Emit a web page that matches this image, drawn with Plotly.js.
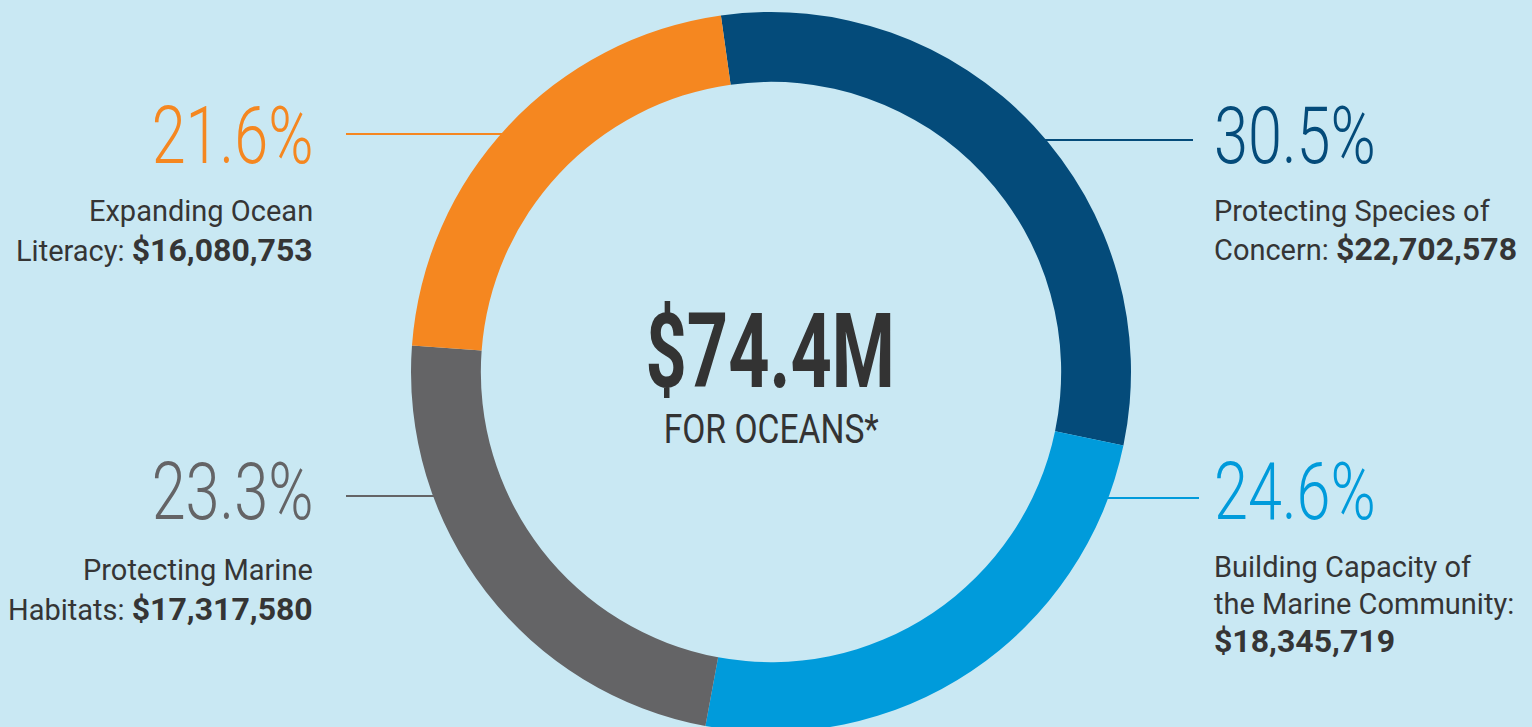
<!DOCTYPE html>
<html>
<head>
<meta charset="utf-8">
<script src="https://cdn.plot.ly/plotly-3.0.1.min.js"></script>
<style>
  html, body { margin: 0; padding: 0; background: #C9E8F3; overflow: hidden; }
  #chart { width: 1532px; height: 744px; }
</style>
</head>
<body>
<div id="chart"></div>
<script>
// ---- data ----
const categories = ["Protecting Species of Concern", "Building Capacity of the Marine Community", "Protecting Marine Habitats", "Expanding Ocean Literacy"];
const labelLines = [
  ["Protecting Species of", "Concern: "],
  ["Building Capacity of", "the Marine Community:", ""],
  ["Protecting Marine", "Habitats: "],
  ["Expanding Ocean", "Literacy: "]
];
const values = [22702578, 18345719, 17317580, 16080753];
const colors = ["#044B7A", "#009BDB", "#646466", "#F58720"];
const centerSub = "FOR OCEANS*";

// ---- derived ----
const total = values.reduce((a, b) => a + b, 0);
const pct = values.map(v => (v / total * 100).toFixed(1) + "%");
const money = v => "$" + v.toLocaleString("en-US");
const totalText = "$" + (total / 1e6).toFixed(1) + "M";

const W = 1532, H = 744;
const px = x => x / W;
const py = y => 1 - y / H;

const trace = {
  type: "pie",
  labels: categories,
  values: values,
  sort: false,
  direction: "clockwise",
  rotation: -8,
  hole: 0.806,
  marker: { colors: colors, line: { width: 0 } },
  textinfo: "none",
  hoverinfo: "skip",
  domain: { x: [411 / W, 1131 / W], y: [0, 1] }
};

const annotations = [];
const scales = [];
function addAnn(text, x, y, xanchor, font, scale, origin) {
  annotations.push({
    text: text, x: px(x), y: py(y), xref: "paper", yref: "paper",
    xanchor: xanchor, yanchor: "middle", showarrow: false, font: font, borderpad: 0
  });
  scales.push({ s: scale, o: origin });
}

const pctFont = c => ({ family: "Roboto", size: 80, color: c, weight: 300 });
const lblFont = { family: "Roboto", size: 29, color: "#353535" };

const place = [
  { side: "right", x: 1213, pctY: 136, ys: [211, 249] },
  { side: "right", x: 1213, pctY: 492, ys: [567, 604, 641] },
  { side: "left", x: 314, pctY: 492, ys: [570, 609] },
  { side: "left", x: 314, pctY: 136, ys: [211, 250] }
];

place.forEach((p, i) => {
  const anchor = p.side === "right" ? "left" : "right";
  const origin = p.side === "right" ? "left center" : "right center";
  addAnn(pct[i], p.x, p.pctY, anchor, pctFont(colors[i]), 0.765, origin);
  const lines = labelLines[i];
  lines.forEach((ln, k) => {
    let t = ln;
    if (k === lines.length - 1) t = ln + '<b><span style="font-size:32px">' + money(values[i]) + "</span></b>";
    addAnn(t, p.x, p.ys[k], anchor, lblFont, 1, origin);
  });
});

addAnn(totalText, 770, 351, "center", { family: "Roboto", size: 103, color: "#333333", weight: 700 }, 0.70, "center");
addAnn(centerSub, 771, 429, "center", { family: "Roboto", size: 41, color: "#333333" }, 0.82, "center");

// leader lines
const leaders = [
  { x0: 1030, x1: 1193, y: 140 },
  { x0: 1090, x1: 1199, y: 498 },
  { x0: 346, x1: 450, y: 496 },
  { x0: 346, x1: 520, y: 134 }
];
const shapes = leaders.map((l, i) => ({
  type: "line", xref: "paper", yref: "paper", layer: "below",
  x0: px(l.x0), x1: px(l.x1), y0: py(l.y), y1: py(l.y),
  line: { color: colors[i], width: 2 }
}));

const layout = {
  width: W, height: H,
  margin: { l: 0, r: 0, t: 0, b: 0 },
  paper_bgcolor: "#C9E8F3",
  plot_bgcolor: "#C9E8F3",
  showlegend: false,
  annotations: annotations,
  shapes: shapes
};

Plotly.newPlot("chart", [trace], layout, { staticPlot: true, displayModeBar: false }).then(gd => {
  gd.querySelectorAll(".annotation").forEach(g => {
    const idx = +g.getAttribute("data-index");
    const sc = scales[idx];
    if (!sc || sc.s === 1) return;
    const t = g.querySelector("text.annotation-text");
    if (!t) return;
    t.style.transformBox = "fill-box";
    t.style.transformOrigin = sc.o;
    t.style.transform = "scaleX(" + sc.s + ")";
  });
});
</script>
</body>
</html>
